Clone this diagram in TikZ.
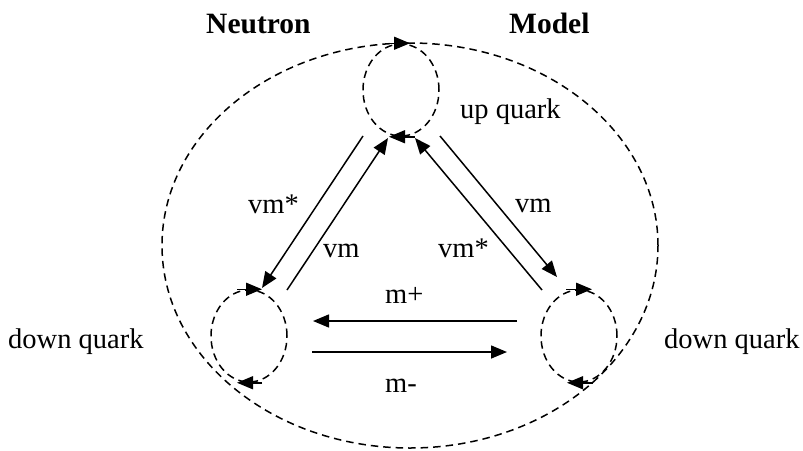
\documentclass[tikz,border=0pt]{standalone}
\usepackage{fontspec}
\setmainfont{Liberation Serif}
\usetikzlibrary{arrows.meta,shapes.geometric}
\begin{document}
\begin{tikzpicture}[x=1pt,y=-1pt,
  dsh/.style={draw, line width=1.5pt, dash pattern=on 7.5pt off 5pt},
  quark/.style={ellipse, dsh, minimum width=76pt, minimum height=92pt, inner sep=0pt},
  arr/.style={line width=1.5pt, -{Triangle[length=16pt,width=13pt]}},
  lbl/.style={font=\fontsize{28.5}{32}\selectfont, inner sep=0pt, anchor=base west},
  ttl/.style={font=\fontsize{29.5}{33}\selectfont\bfseries, inner sep=0pt, anchor=base west}]
\useasboundingbox (0,0) rectangle (803,450);
% outer ellipse
\node[ellipse, dsh, minimum width=496pt, minimum height=405pt, inner sep=0pt] (big) at (410,245.5) {};
% quarks
\node[quark] (up) at (401,90) {};
\node[quark] (dl) at (249,336) {};
\node[quark] (dr) at (579,336) {};
% circulation arrows on the quark loops
\draw[arr] ([xshift=-13pt]up.north) -- ([xshift=9pt]up.north);
\draw[arr] ([xshift=14pt]up.south) -- ([xshift=-12pt]up.south);
\draw[arr] ([xshift=-12pt]dl.north) -- ([xshift=13pt]dl.north);
\draw[arr] ([xshift=13pt]dl.south) -- ([xshift=-12pt]dl.south);
\draw[arr] ([xshift=-13pt]dr.north) -- ([xshift=13pt]dr.north);
\draw[arr] ([xshift=14pt]dr.south) -- ([xshift=-12pt]dr.south);
% connector end points
\coordinate (a1) at (363,136); \coordinate (a2) at (262,288);
\coordinate (b1) at (287,290); \coordinate (b2) at (388,138);
\coordinate (c1) at (542,290); \coordinate (c2) at (415,138);
\coordinate (d1) at (440,136); \coordinate (d2) at (557,277);
\coordinate (e1) at (517,321); \coordinate (e2) at (313,321);
\coordinate (f1) at (312,352); \coordinate (f2) at (507,352);
\draw[arr] (a1) -- (a2);
\draw[arr] (b1) -- (b2);
\draw[arr] (c1) -- (c2);
\draw[arr] (d1) -- (d2);
\draw[arr] (e1) -- (e2);
\draw[arr] (f1) -- (f2);
% labels
\node[ttl] (t1) at (206,33) {Neutron};
\node[ttl] (t2) at (509,33) {Model};
\node[lbl] (lup) at (460,118) {up quark};
\node[lbl] (ldl) at (8,348) {down quark};
\node[lbl] (ldr) at (664,348) {down quark};
\node[lbl] (l1) at (248,213) {vm*};
\node[lbl] (l2) at (323,257) {vm};
\node[lbl] (l3) at (515,212) {vm};
\node[lbl] (l4) at (438,257) {vm*};
\node[lbl] (l5) at (385,303) {m+};
\node[lbl] (l6) at (385,392) {m-};
\end{tikzpicture}
\end{document}
